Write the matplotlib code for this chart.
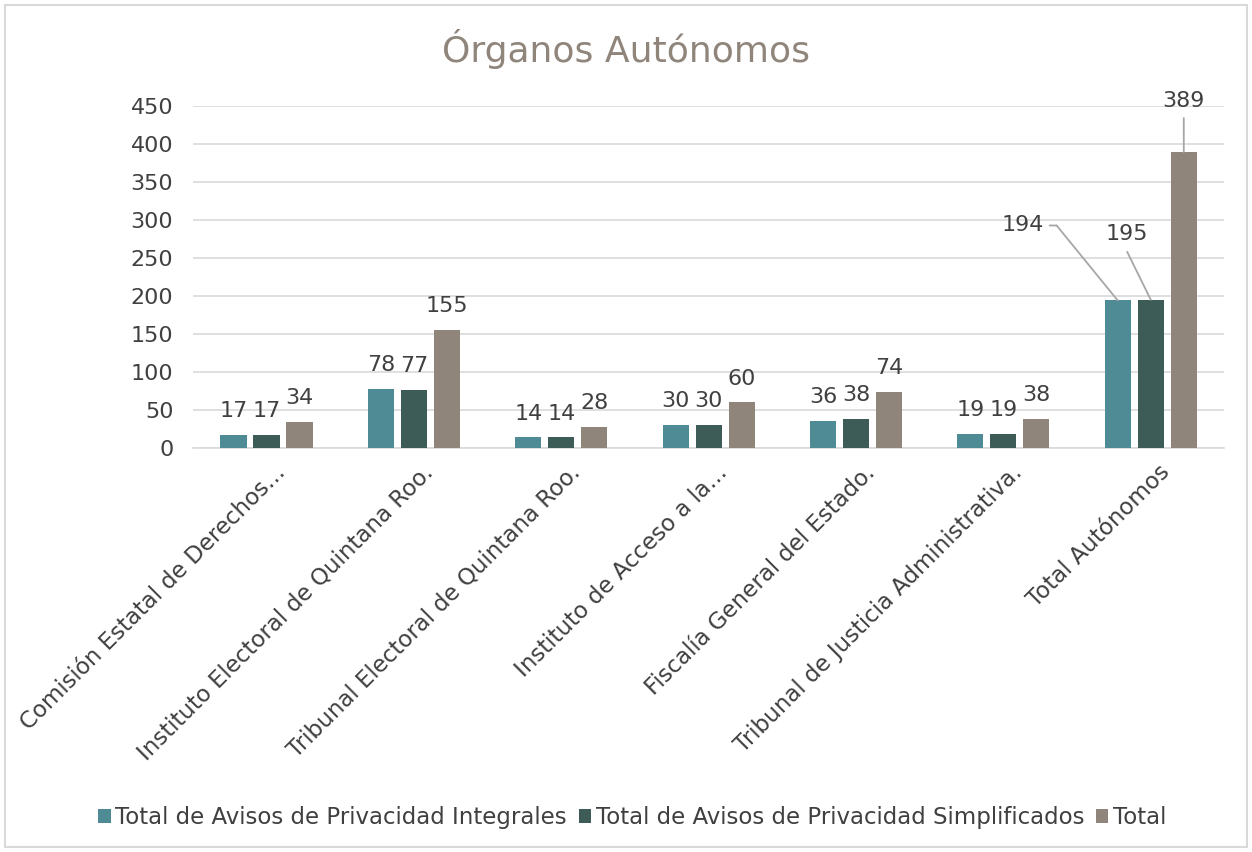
import matplotlib.pyplot as plt
import numpy as np
from matplotlib.patches import Rectangle
from matplotlib.text import OffsetFrom

categorias = ['Comisión Estatal de Derechos...', 'Instituto Electoral de Quintana Roo.',
              'Tribunal Electoral de Quintana Roo.', 'Instituto de Acceso a la...',
              'Fiscalía General del Estado.', 'Tribunal de Justicia Administrativa.',
              'Total Autónomos']
integrales = [17, 78, 14, 30, 36, 19, 194]
simplificados = [17, 77, 14, 30, 38, 19, 195]
total = [34, 155, 28, 60, 74, 38, 389]
series = ['Total de Avisos de Privacidad Integrales',
          'Total de Avisos de Privacidad Simplificados', 'Total']
colores = ['#4E8B94', '#3D5C58', '#8F857B']

plt.rcParams['font.family'] = ['DejaVu Sans']
fig = plt.figure(figsize=(12.52, 8.52), dpi=100)
ax = fig.add_axes([0.154, 0.474, 0.824, 0.402])

x = np.arange(len(categorias))
w = 0.177
step = 0.224
valores = [integrales, simplificados, total]
barras = []
for i, (vals, col, nom) in enumerate(zip(valores, colores, series)):
    b = ax.bar(x + (i - 1) * step, vals, w, color=col, label=nom, zorder=3)
    barras.append(b)

txt = '#404040'
### etiquetas de datos
for i, vals in enumerate(valores):
    for j, v in enumerate(vals):
        if j == len(categorias) - 1:
            continue
        ax.annotate(str(v), (x[j] + (i - 1) * step, v), xytext=(0, 10),
                    textcoords='offset points', ha='center', va='bottom',
                    fontsize=16, color=txt)

### etiquetas con lineas guia en el total
ult = len(categorias) - 1
lc = '#A6A6A6'
lk = dict(arrowstyle='-', color=lc, lw=1.3, shrinkA=0, shrinkB=0)

p1 = (x[ult] - step, integrales[ult])
ax.annotate(str(integrales[ult]), p1, xytext=(-53, 54), textcoords='offset points',
            ha='right', va='center', fontsize=16, color=txt)
ax.annotate('', xy=p1, xytext=(-44, 54), textcoords='offset points', arrowprops=lk)
ref1 = OffsetFrom(ax.transData, p1, unit='points')
ax.annotate('', xy=(-44, 54), xycoords=ref1, xytext=(-49, 54), textcoords=ref1, arrowprops=lk)

p2 = (x[ult], simplificados[ult])
ax.annotate(str(simplificados[ult]), p2, xytext=(-17, 47.5), textcoords='offset points',
            ha='center', va='center', fontsize=16, color=txt)
ax.annotate('', xy=p2, xytext=(-17, 34.5), textcoords='offset points', arrowprops=lk)

p3 = (x[ult] + step, total[ult])
ax.annotate(str(total[ult]), p3, xytext=(0, 37), textcoords='offset points',
            ha='center', va='center', fontsize=16, color=txt, annotation_clip=False)
ax.annotate('', xy=p3, xytext=(0, 24.5), textcoords='offset points', arrowprops=lk)

ax.set_ylim(0, 450)
ax.set_xlim(-0.5, len(categorias) - 0.5)
ax.set_yticks(range(0, 451, 50))
ax.yaxis.grid(True, color='#D9D9D9', lw=1.2, zorder=0)
for s in ['top', 'right', 'left']:
    ax.spines[s].set_visible(False)
ax.spines['bottom'].set_color('#D9D9D9')
ax.spines['bottom'].set_linewidth(1.2)
ax.tick_params(axis='both', length=0, labelsize=16, colors=txt)
ax.tick_params(axis='y', pad=14)
ax.set_xticks(x + 0.05)
ax.set_xticklabels(categorias, rotation=45, ha='right', rotation_mode='anchor', fontsize=16.5)
ax.tick_params(axis='x', pad=9)

fig.text(0.5, 0.942, 'Órganos Autónomos', ha='center', va='center', fontsize=26, color='#8F857B')

fig.legend(handles=barras, labels=series, loc='center', bbox_to_anchor=(0.505, 0.04), ncol=3,
           frameon=False, fontsize=16.5, handlelength=0.55, handleheight=0.55, handletextpad=0.2,
           columnspacing=0.5, labelcolor=txt)

fig.patches.append(Rectangle((0.004, 0.006), 0.992, 0.988, transform=fig.transFigure,
                             fill=False, edgecolor='#D9D9D9', lw=1.5))

fig.savefig('out.png', dpi=100)
